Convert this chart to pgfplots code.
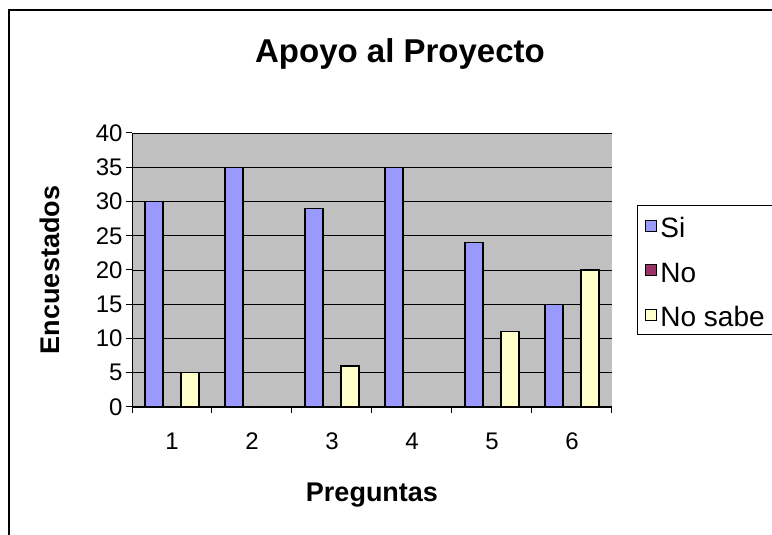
\documentclass[border=0pt]{standalone}
\usepackage{pgfplots}
\pgfplotsset{compat=1.18}
\usepackage{fontspec}
\setmainfont{Liberation Sans}
\definecolor{siC}{HTML}{9999FF}
\definecolor{noC}{HTML}{993366}
\definecolor{nsC}{HTML}{FFFFCC}
\definecolor{bgC}{HTML}{C0C0C0}
\begin{document}
\begin{tikzpicture}[x=1pt,y=1pt]
\useasboundingbox (0,0) rectangle (772,535);
\draw[line width=2pt] (9,-5) -- (9,525) -- (780,525);
\begin{axis}[
  at={(132pt,128pt)}, anchor=south west,
  scale only axis, width=480pt, height=274pt,
  xmin=0.5, xmax=6.5, ymin=0, ymax=40,
  ybar=0pt, bar width=18pt,
  xtick={0.5,1.5,2.5,3.5,4.5,5.5,6.5},
  x tick label as interval=true,
  xticklabels={1,2,3,4,5,6},
  ytick={0,5,10,15,20,25,30,35,40},
  axis lines*=left,
  axis line style={black, line width=1pt},
  tick align=outside, major tick length=6pt,
  tick style={black, line width=1pt},
  ymajorgrids, major grid style={black, line width=0.8pt},
  axis background/.style={fill=bgC},
  /pgf/number format/assume math mode=true,
  ticklabel style={font=\fontsize{24}{28}\selectfont},
  yticklabel style={xshift=0pt},
  xticklabel style={yshift=-16pt},
  xlabel={Preguntas}, ylabel={Encuestados},
  every axis x label/.style={at={(axis description cs:0.5,-0.3467)}, anchor=base, font=\fontsize{27}{31}\selectfont\bfseries},
  every axis y label/.style={at={(axis description cs:-0.152,0.5)}, anchor=base, rotate=90, font=\fontsize{27}{31}\selectfont\bfseries},
  legend style={at={(rel axis cs:1.052,0.737)}, anchor=north west, draw=black, line width=1pt, fill=white,
    font=\fontsize{28}{32}\selectfont, row sep=20.5pt, inner xsep=8pt, inner ysep=8pt,
    nodes={inner ysep=0pt, inner xsep=3pt, text height=24pt, text depth=0pt}},
  legend cell align=left,
  legend image code/.code={\draw[#1, line width=1pt, draw=black] (0pt,-5.5pt) rectangle (11pt,5.5pt);},
]
\addplot[draw=black, line width=1.3pt, fill=siC] coordinates {(1,30) (2,35) (3,29) (4,35) (5,24) (6,15)};
\addplot[draw=black, line width=1.3pt, fill=noC] coordinates {(1,0) (2,0) (3,0) (4,0) (5,0) (6,0)};
\addplot[draw=black, line width=1.3pt, fill=nsC] coordinates {(1,5) (2,0) (3,6) (4,0) (5,11) (6,20)};
\legend{Si,No,No sabe\hspace*{15pt}}
\end{axis}
\node[anchor=base, font=\fontsize{33}{37}\selectfont\bfseries] at (400,472) {Apoyo al Proyecto};
\end{tikzpicture}
\end{document}
